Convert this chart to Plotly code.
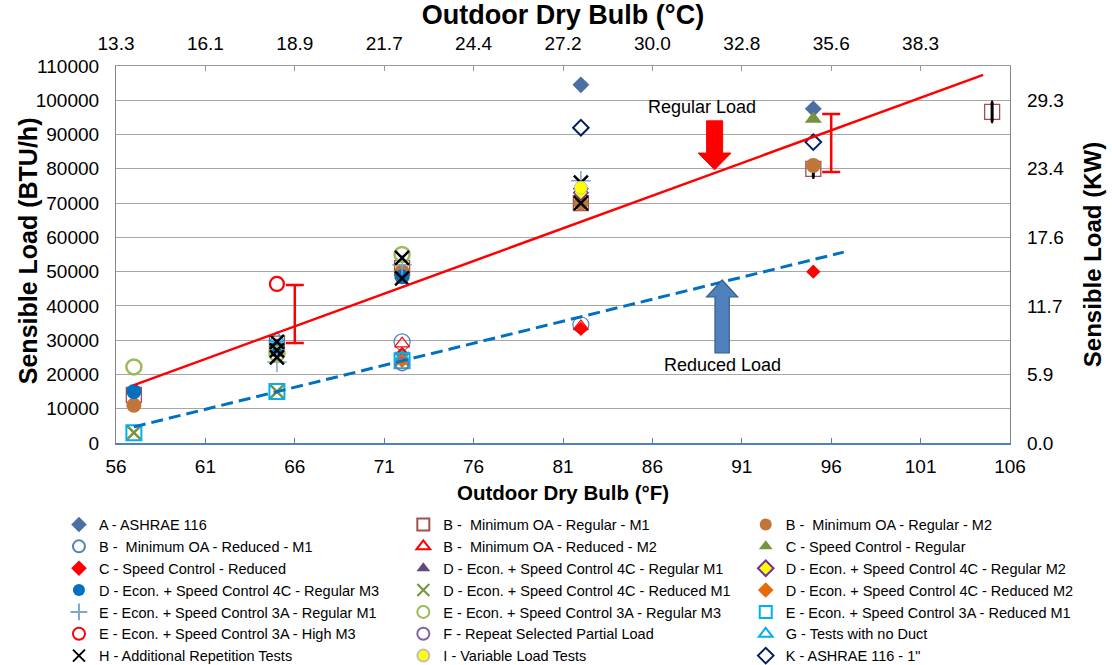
import plotly.graph_objects as go

BTU_PER_KW = 3412.14

# ---- Test points: outdoor dry bulb (°F) vs. sensible load (BTU/h) ----
a_x = [82, 95]
a_y = [104500, 97500]

b_reg_m1_x = [57, 65, 72, 82, 95, 105]
b_reg_m1_y = [14000, 29000, 51000, 70000, 80000, 96600]

b_reg_m2_x = [57, 65, 72, 82, 95]
b_reg_m2_y = [11000, 27000, 50000, 70000, 81000]

b_red_m1_x = [72, 82]
b_red_m1_y = [29500, 34500]

b_red_m2_x = [72, 82]
b_red_m2_y = [29000, 34000]

c_reg_x = [95]
c_reg_y = [94500]

c_red_x = [72, 82, 95]
c_red_y = [26000, 33300, 50000]

d_reg_m1_x = [65, 72]
d_reg_m1_y = [28500, 49000]

d_reg_m2_x = [82]
d_reg_m2_y = [73000]

d_reg_m3_x = [57, 65, 72]
d_reg_m3_y = [15000, 27500, 48500]

d_red_m1_x = [57, 65, 72]
d_red_m1_y = [3000, 15000, 24500]

d_red_m2_x = [72]
d_red_m2_y = [24000]

e_reg_m1_x = [65, 72, 82]
e_reg_m1_y = [23600, 52000, 76500]

e_reg_m3_x = [57, 65, 72]
e_reg_m3_y = [22200, 26000, 55000]

e_red_m1_x = [57, 65, 72]
e_red_m1_y = [3000, 15000, 24000]

e_high_m3_x = [65]
e_high_m3_y = [46400]

f_x = [72]
f_y = [23000]

g_x = [65, 72]
g_y = [30500, 25000]

h_x = [65, 65, 65, 72, 72, 82, 82]
h_y = [29500, 27000, 25000, 54000, 48000, 70000, 76000]

i_x = [82]
i_y = [74500]

k_x = [82, 95]
k_y = [92000, 87800]

# repeat-test spread on the minimum-OA regular points
b_spread_x = [95, 105]
b_spread_y = [80000, 96600]
b_spread_err = [2500, 2900]

# load ranges (low / high) shown as red bars
range_x = [66, 96]
range_lo = [29200, 79100]
range_hi = [46100, 96000]

# linear trend lines
regular_fit_x = [57, 104.5]
regular_fit_y = [16900, 107400]
reduced_fit_x = [57, 96.7]
reduced_fit_y = [4700, 55700]

# axis ticks
f_ticks = [56, 61, 66, 71, 76, 81, 86, 91, 96, 101, 106]
c_ticks_f = f_ticks[:-1]
c_tick_text = ["%.1f" % ((f - 32) / 1.8) for f in c_ticks_f]
btu_ticks = list(range(0, 110001, 10000))
kw_ticks_btu = [0, 20000, 40000, 60000, 80000, 100000]

# block arrows: (centre x, tip y, head-base y, tail y, head half-width, shaft half-width)
regular_arrow = (89.48, 79700, 84600, 94000, 0.92, 0.45)
reduced_arrow = (89.90, 47600, 42600, 26300, 0.87, 0.40)

FONT = "Liberation Sans, Arial, sans-serif"

series = [
    ("A - ASHRAE 116", a_x, a_y, "diamond", 13, "#4A6FA5", None, 0),
    ("B -  Minimum OA - Regular - M1", b_reg_m1_x, b_reg_m1_y, "square-open", 15, "#A0504D", None, 1.3),
    ("B -  Minimum OA - Regular - M2", b_reg_m2_x, b_reg_m2_y, "circle", 15, "#C0763A", None, 0),
    ("B -  Minimum OA - Reduced - M1", b_red_m1_x, b_red_m1_y, "circle-open", 16, "#4F81BD", None, 1.2),
    ("B -  Minimum OA - Reduced - M2", b_red_m2_x, b_red_m2_y, "triangle-up-open", 13, "#FF0000", None, 1.2),
    ("C - Speed Control - Regular", c_reg_x, c_reg_y, "triangle-up", 15, "#77933C", None, 0),
    ("C - Speed Control - Reduced", c_red_x, c_red_y, "diamond", 11, "#FF0000", None, 0),
    ("D - Econ. + Speed Control 4C - Regular M1", d_reg_m1_x, d_reg_m1_y, "triangle-up", 14, "#604A7B", None, 0),
    ("D - Econ. + Speed Control 4C - Regular M2", d_reg_m2_x, d_reg_m2_y, "diamond", 11, "#FFFF00", "#7030A0", 1.5),
    ("D - Econ. + Speed Control 4C - Regular M3", d_reg_m3_x, d_reg_m3_y, "circle", 15, "#0070C0", None, 0),
    ("D - Econ. + Speed Control 4C - Reduced M1", d_red_m1_x, d_red_m1_y, "x-thin-open", 14, "#77933C", None, 2.5),
    ("D - Econ. + Speed Control 4C - Reduced M2", d_red_m2_x, d_red_m2_y, "diamond", 11, "#E46C0A", None, 0),
    ("E - Econ. + Speed Control 3A - Regular M1", e_reg_m1_x, e_reg_m1_y, "cross-thin-open", 14, "#7FA6CE", None, 1.5),
    ("E - Econ. + Speed Control 3A - Regular M3", e_reg_m3_x, e_reg_m3_y, "circle-open", 15, "#9BBB59", None, 2.5),
    ("E - Econ. + Speed Control 3A - Reduced M1", e_red_m1_x, e_red_m1_y, "square-open", 15, "#00B0F0", None, 2),
    ("E - Econ. + Speed Control 3A - High M3", e_high_m3_x, e_high_m3_y, "circle-open", 14, "#FF0000", None, 2.2),
    ("F - Repeat Selected Partial Load", f_x, f_y, "circle-open", 13, "#8064A2", None, 1.5),
    ("G - Tests with no Duct", g_x, g_y, "triangle-up-open", 13, "#00B0F0", None, 1.5),
    ("H - Additional Repetition Tests", h_x, h_y, "x-thin-open", 14, "#000000", None, 2.5),
    ("I - Variable Load Tests", i_x, i_y, "circle", 13, "#FFFF00", "#BFBFBF", 1),
    ('K - ASHRAE 116 - 1"', k_x, k_y, "diamond-open", 12, "#002060", None, 2),
]

legend_ids = ["legend", "legend2", "legend3"]

fig = go.Figure()

for idx, (name, xs, ys, symbol, size, color, line_color, line_w) in enumerate(series):
    fig.add_trace(go.Scatter(
        x=xs, y=ys, mode="markers", name=name,
        legend=legend_ids[idx % 3],
        marker=dict(symbol=symbol, size=size, color=color,
                    line=dict(color=line_color or color, width=line_w)),
    ))
    if idx == 1:
        fig.add_trace(go.Scatter(
            x=b_spread_x, y=b_spread_y, mode="markers", showlegend=False,
            marker=dict(size=1, color="rgba(0,0,0,0)"), hoverinfo="skip",
            error_y=dict(type="data", array=b_spread_err, color="black",
                         thickness=3, width=1),
        ))

# trend lines
fig.add_trace(go.Scatter(x=regular_fit_x, y=regular_fit_y, mode="lines",
                         line=dict(color="#FF0000", width=2.5),
                         showlegend=False, hoverinfo="skip"))
fig.add_trace(go.Scatter(x=reduced_fit_x, y=reduced_fit_y, mode="lines",
                         line=dict(color="#0070C0", width=3, dash="12px,6px"),
                         showlegend=False, hoverinfo="skip"))

# load range bars
fig.add_trace(go.Scatter(
    x=range_x, y=range_lo, mode="markers", showlegend=False, hoverinfo="skip",
    marker=dict(size=1, color="rgba(0,0,0,0)"),
    error_y=dict(type="data", symmetric=False,
                 array=[h - l for h, l in zip(range_hi, range_lo)],
                 arrayminus=[0] * len(range_lo),
                 color="#FF0000", thickness=2.5, width=9),
))

# secondary axes carrier (°C on top, kW on right)
fig.add_trace(go.Scatter(x=[56], y=[0], xaxis="x2", yaxis="y2", mode="markers",
                         marker=dict(size=1, color="rgba(0,0,0,0)"),
                         showlegend=False, hoverinfo="skip"))


def block_arrow(cx, y_tip, y_base, y_tail, head_half, shaft_half):
    pts = [
        (cx, y_tip),
        (cx + head_half, y_base),
        (cx + shaft_half, y_base),
        (cx + shaft_half, y_tail),
        (cx - shaft_half, y_tail),
        (cx - shaft_half, y_base),
        (cx - head_half, y_base),
    ]
    return "M " + " L ".join("%g,%g" % p for p in pts) + " Z"


fig.add_shape(type="path", xref="x", yref="y", path=block_arrow(*regular_arrow),
              fillcolor="#FF0000", line=dict(color="#FF0000", width=1))
fig.add_shape(type="path", xref="x", yref="y", path=block_arrow(*reduced_arrow),
              fillcolor="#4F81BD", line=dict(color="#385D8A", width=1.2))

fig.add_annotation(x=88.8, y=98000, xref="x", yref="y", text="Regular Load",
                   showarrow=False, font=dict(family=FONT, size=18, color="black"))
fig.add_annotation(x=89.9, y=22800, xref="x", yref="y", text="Reduced Load",
                   showarrow=False, font=dict(family=FONT, size=18, color="black"))

# left axis title, set close to the tick labels
fig.add_annotation(x=-0.099, y=0.51, xref="paper", yref="paper",
                   text="<b>Sensible Load (BTU/h)</b>", textangle=-90,
                   showarrow=False, xanchor="center", yanchor="middle",
                   font=dict(family=FONT, size=25, color="black"))

legend_common = dict(
    orientation="v", yanchor="top", xanchor="left", y=-0.174,
    font=dict(family=FONT, size=14.5, color="black"),
    bgcolor="rgba(0,0,0,0)", itemsizing="constant", tracegroupgap=0,
)

fig.update_layout(
    width=1112, height=665,
    margin=dict(l=116, r=102, t=66, b=222, autoexpand=False),
    paper_bgcolor="white", plot_bgcolor="white",
    font=dict(family=FONT, size=19, color="black"),
    legend=dict(x=-0.0638, **legend_common),
    legend2=dict(x=0.3214, **legend_common),
    legend3=dict(x=0.7044, **legend_common),
    xaxis=dict(
        range=[56, 106], tickvals=f_ticks, ticks="inside", ticklen=5,
        tickcolor="#4F81BD", showline=True, linecolor="#4F81BD", linewidth=1.5,
        showgrid=False, zeroline=False, tickfont=dict(size=19), ticklabelstandoff=5,
        title=dict(text="<b>Outdoor Dry Bulb (°F)</b>", font=dict(size=20.5), standoff=10),
    ),
    xaxis2=dict(
        overlaying="x", side="top", range=[56, 106], tickvals=c_ticks_f,
        ticktext=c_tick_text, ticks="inside", ticklen=5, tickcolor="#9A9A9A",
        showline=True, linecolor="#9A9A9A", linewidth=1.2, showgrid=False,
        zeroline=False, tickfont=dict(size=19), ticklabelstandoff=7,
        title=dict(text="<b>Outdoor Dry Bulb (°C)</b>", font=dict(size=27), standoff=2),
    ),
    yaxis=dict(
        range=[0, 110000], tickvals=btu_ticks, tickformat="d", showgrid=True,
        gridcolor="#A6A6A6", gridwidth=1, showline=True, linecolor="#868686",
        linewidth=1.2, zeroline=False, ticks="", ticklabelstandoff=12,
        tickfont=dict(size=19),
    ),
    yaxis2=dict(
        overlaying="y", side="right", range=[0, 110000 / BTU_PER_KW],
        tickvals=[b / BTU_PER_KW for b in kw_ticks_btu],
        ticktext=["%.1f" % (b / BTU_PER_KW) for b in kw_ticks_btu],
        showline=True, linecolor="#868686", linewidth=1.2, showgrid=False,
        zeroline=False, ticks="", ticklabelstandoff=12, tickfont=dict(size=19),
        title=dict(text="<b>Sensible Load (KW)</b>", font=dict(size=24), standoff=20),
    ),
)

fig.write_html("out.html")
